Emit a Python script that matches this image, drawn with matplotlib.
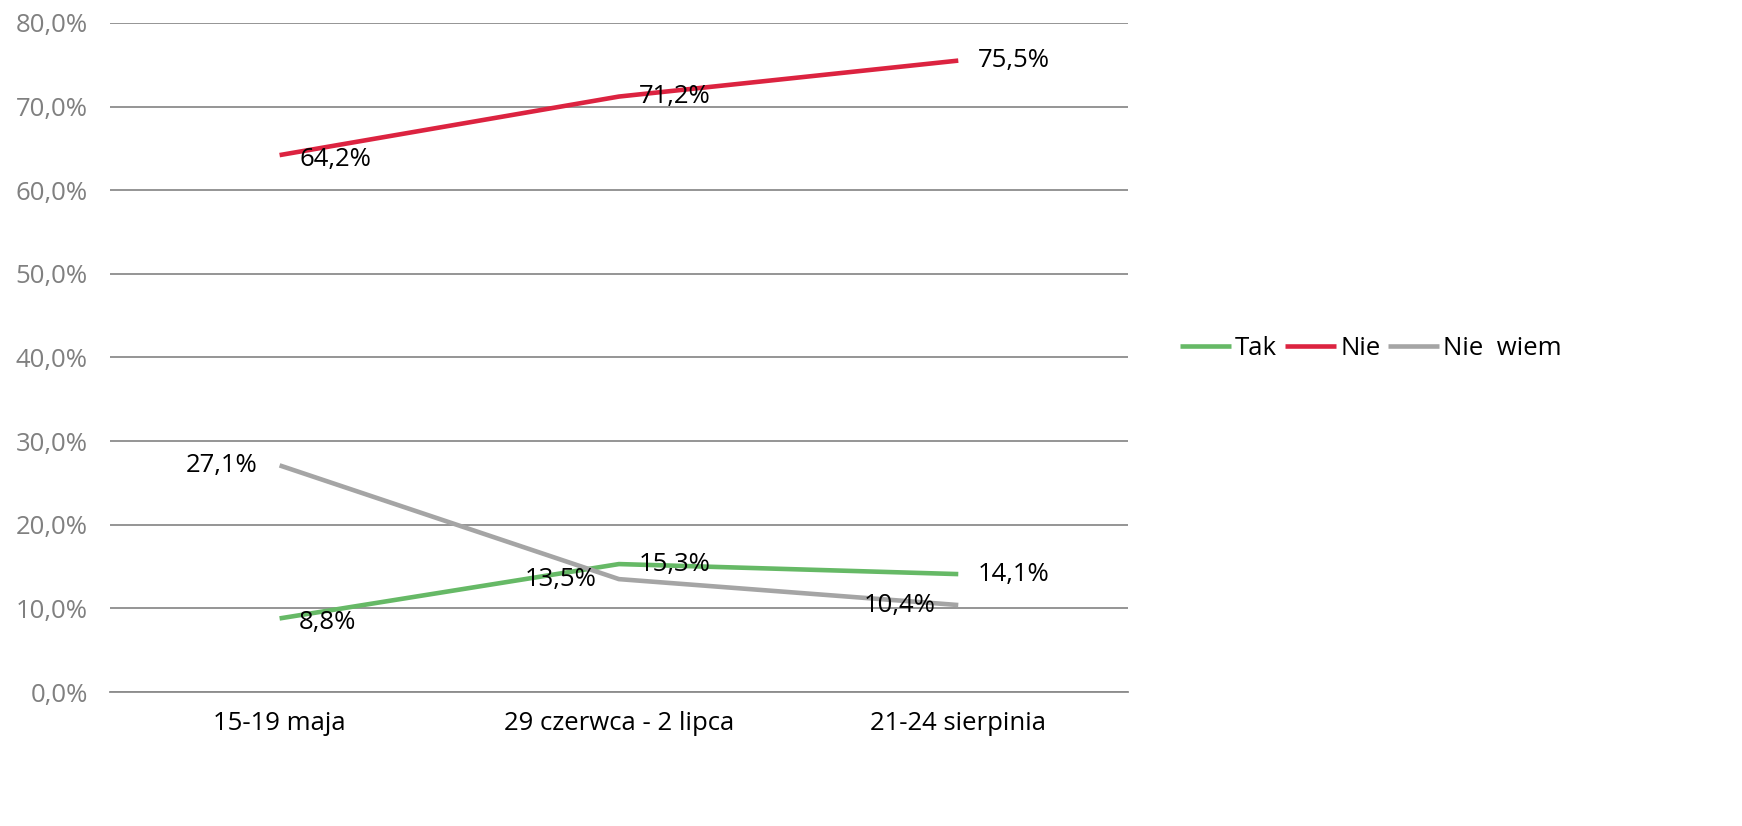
import matplotlib.pyplot as plt
from matplotlib import font_manager

names = {f.name for f in font_manager.fontManager.ttflist}
font = 'Liberation Sans Narrow' if 'Liberation Sans Narrow' in names else 'Open Sans'
plt.rcParams['font.family'] = [font, 'DejaVu Sans']

categories = ['15-19 maja', '29 czerwca - 2 lipca', '21-24 sierpinia']
tak = [8.8, 15.3, 14.1]
nie = [64.2, 71.2, 75.5]
nie_wiem = [27.1, 13.5, 10.4]
yticks = [0, 10, 20, 30, 40, 50, 60, 70, 80]

fig = plt.figure(figsize=(17.42, 8.26), dpi=100)
ax = fig.add_axes([0.0631, 0.1622, 0.5844, 0.81])

x = range(len(categories))
ax.plot(x, tak, color='#66b966', lw=3.3, label='Tak', solid_capstyle='butt')
ax.plot(x, nie, color='#dc2340', lw=3.3, label='Nie', solid_capstyle='butt')
ax.plot(x, nie_wiem, color='#a5a5a5', lw=3.3, label='Nie  wiem', solid_capstyle='butt')

def fmt(v):
    return ('%.1f%%' % v).replace('.', ',')

fs = 18.5
# offsets in points for data labels
offs_tak = [(14, -3, 'left'), (14, 0, 'left'), (14, 0, 'left')]
offs_nie = [(14, -3, 'left'), (14, 0, 'left'), (14, 0, 'left')]
offs_nw = [(-16, 0, 'right'), (-16, 0, 'right'), (-16, 0, 'right')]
for vals, offs in [(tak, offs_tak), (nie, offs_nie), (nie_wiem, offs_nw)]:
    for i, v in enumerate(vals):
        dx, dy, ha = offs[i]
        ax.annotate(fmt(v), (i, v), xytext=(dx, dy), textcoords='offset points',
                    ha=ha, va='center', fontsize=fs)

ax.set_xlim(-0.5, 2.5)
ax.set_ylim(0, 80)
ax.set_yticks(yticks)
ax.set_yticklabels([fmt(t) for t in yticks], color='#808080', fontsize=fs)
ax.set_xticks(list(x))
ax.set_xticklabels(categories, fontsize=fs)
ax.tick_params(axis='x', length=0, pad=14)
ax.tick_params(axis='y', length=0, pad=16)
ax.grid(axis='y', color='#8c8c8c', lw=1.3)
ax.set_axisbelow(True)
for s in ['top', 'right', 'left']:
    ax.spines[s].set_visible(False)
ax.spines['bottom'].set_color('#8c8c8c')
ax.spines['bottom'].set_linewidth(1.3)

fig.legend(loc='center left', bbox_to_anchor=(0.664, 0.578), ncol=3, frameon=False,
           fontsize=fs, handlelength=2.0, handletextpad=0.15, columnspacing=0.3)

fig.savefig('out.png', dpi=100)
